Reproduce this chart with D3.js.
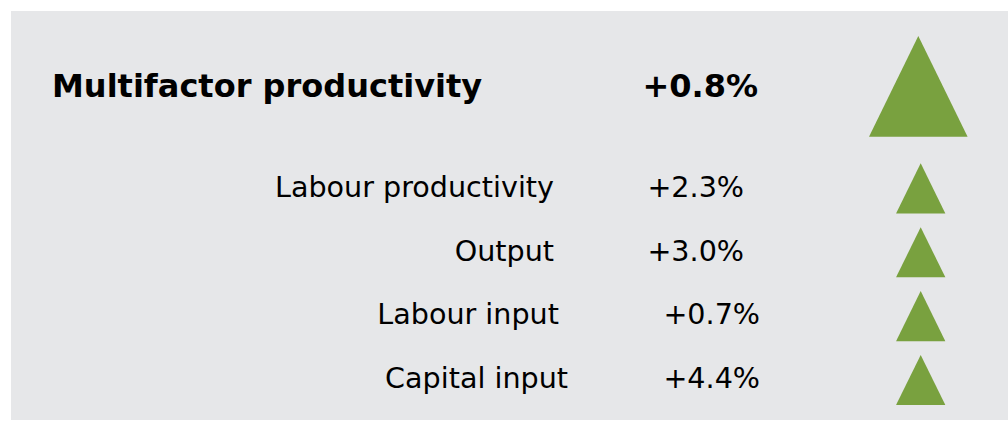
<!DOCTYPE html>
<meta charset="utf-8">
<style>
    body { margin: 0; background: #fff; }
    text { font-family: 'DejaVu Sans', Verdana, sans-serif; fill: #000; }
</style>
<svg width="1008" height="421"></svg>
<script src="https://d3js.org/d3.v7.min.js"></script>
<script>

    // data
    const headline = ["Multifactor productivity"];
    const headlineValue = [0.8];
    const components = ["Labour productivity", "Output", "Labour input ", "Capital input"];
    const componentValues = [2.3, 3.0, 0.7, 4.4];

    var svg = d3.select("svg"),
        width = +svg.attr("width"),
        height = +svg.attr("height");

    svg.append("rect")
        .attr("x", 11).attr("y", 11)
        .attr("width", width - 11).attr("height", 409)
        .attr("fill", "#e6e7e9");

    const fmt = function (v) { return (v > 0 ? "+" : "") + v.toFixed(1) + "%"; };
    const green = "#79a13f";

    // rows sit on baselines from a point scale
    var y = d3.scalePoint().domain(components).range([196.7, 388.3]);
    // the original text boxes are not quite aligned, nudge per row
    const labelRight = [554, 554, 568, 568];
    const valueRight = [744, 744, 760, 760];

    var rows = components.map(function (c, i) {
        return { label: c, value: componentValues[i], i: i };
    });

    // headline
    svg.append("text")
        .attr("x", 52).attr("y", 96.7)
        .style("font-weight", "bold").style("font-size", "32px")
        .text(headline[0]);
    svg.append("text")
        .attr("x", 758).attr("y", 96.7)
        .attr("text-anchor", "end")
        .style("font-weight", "bold").style("font-size", "32px")
        .text(fmt(headlineValue[0]));

    var line = d3.line();
    function tri(cx, top, w, h, up) {
        if (up) return line([[cx, top], [cx + w / 2, top + h], [cx - w / 2, top + h]]) + "Z";
        return line([[cx - w / 2, top], [cx + w / 2, top], [cx, top + h]]) + "Z";
    }

    svg.append("path")
        .attr("d", tri(918.3, 36, 98.6, 100.7, headlineValue[0] > 0))
        .attr("fill", green);

    var g = svg.append("g").selectAll("g").data(rows).enter().append("g");

    g.append("text")
        .attr("x", function (d) { return labelRight[d.i]; })
        .attr("y", function (d) { return y(d.label); })
        .attr("text-anchor", "end")
        .attr("xml:space", "preserve")
        .style("font-size", "28.6px")
        .text(function (d) { return d.label; });

    g.append("text")
        .attr("x", function (d) { return valueRight[d.i]; })
        .attr("y", function (d) { return y(d.label); })
        .attr("text-anchor", "end")
        .style("font-size", "28.6px")
        .text(function (d) { return fmt(d.value); });

    g.append("path")
        .attr("d", function (d) { return tri(920.7, y(d.label) - 33.4, 49.3, 50.2, d.value > 0); })
        .attr("fill", green);

</script>
